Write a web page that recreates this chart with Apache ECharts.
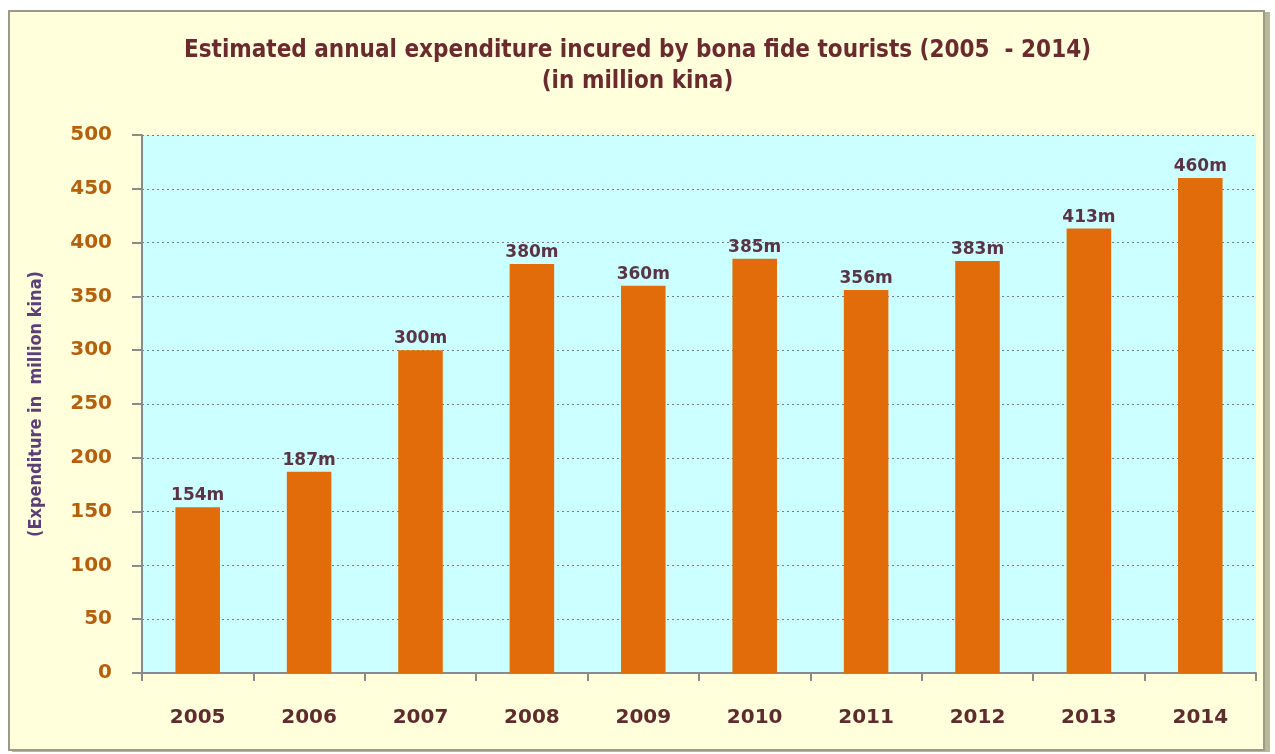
<!DOCTYPE html>
<html>
<head>
<meta charset="utf-8">
<script src="https://cdn.jsdelivr.net/npm/echarts@6/dist/echarts.min.js"></script>
<style>
  html, body { margin: 0; padding: 0; background: #fff; }
  #chart { width: 1275px; height: 754px; }
</style>
</head>
<body>
<div id="chart"></div>
<script>
const years = ['2005', '2006', '2007', '2008', '2009', '2010', '2011', '2012', '2013', '2014']
const expenditure = [154, 187, 300, 380, 360, 385, 356, 383, 413, 460]
const titleLines = ['Estimated annual expenditure incured by bona fide tourists (2005  - 2014)', '(in million kina)']
const yAxisTitle = '(Expenditure in  million kina)'

const chart = echarts.init(document.getElementById('chart'))

chart.setOption({
  backgroundColor: '#ffffff',
  animation: false,
  graphic: [
    {
      type: 'rect',
      z: -10,
      shape: { x: 12, y: 12, width: 1258, height: 740 },
      style: { fill: '#b8b89a' }
    },
    {
      type: 'rect',
      z: -9,
      shape: { x: 9, y: 11, width: 1255, height: 739 },
      style: { fill: '#ffffdc', stroke: '#9a9a86', lineWidth: 2 }
    }
  ],
  title: {
    text: titleLines.join('\n'),
    left: 'center',
    top: 30,
    textStyle: {
      fontFamily: 'DejaVu Sans Condensed',
      fontWeight: 'bold',
      fontSize: 24,
      lineHeight: 31,
      color: '#6a2a2e'
    }
  },
  grid: {
    left: 142,
    right: 19,
    top: 135,
    bottom: 81,
    show: true,
    backgroundColor: '#ccffff',
    borderWidth: 0
  },
  xAxis: {
    type: 'category',
    data: years,
    axisLine: { lineStyle: { color: '#8a8a8a', width: 2 } },
    axisTick: { show: true, length: 8, lineStyle: { color: '#8a8a8a', width: 2 } },
    axisLabel: {
      margin: 35,
      fontFamily: 'DejaVu Sans',
      fontWeight: 'bold',
      fontSize: 20,
      color: '#5e2c2e'
    }
  },
  yAxis: {
    type: 'value',
    min: 0,
    max: 500,
    interval: 50,
    name: yAxisTitle,
    nameLocation: 'middle',
    nameGap: 97,
    nameTextStyle: {
      fontFamily: 'DejaVu Sans Condensed',
      fontWeight: 'bold',
      fontSize: 18,
      color: '#5d3f78'
    },
    axisLine: { show: true, lineStyle: { color: '#8a8a8a', width: 2 } },
    axisTick: { show: true, length: 10, lineStyle: { color: '#8a8a8a', width: 2 } },
    axisLabel: {
      margin: 30,
      fontFamily: 'DejaVu Sans',
      fontWeight: 'bold',
      fontSize: 20,
      color: '#b5600e'
    },
    splitLine: { lineStyle: { color: '#7a7a7a', type: [2, 3], width: 1 } }
  },
  series: [
    {
      type: 'bar',
      data: expenditure,
      barWidth: '40%',
      itemStyle: { color: '#e36c0a' },
      label: {
        show: true,
        position: 'top',
        distance: 3,
        formatter: '{c}m',
        fontFamily: 'DejaVu Sans',
        fontWeight: 'bold',
        fontSize: 17,
        color: '#5a3444'
      }
    }
  ]
})
</script>
</body>
</html>
